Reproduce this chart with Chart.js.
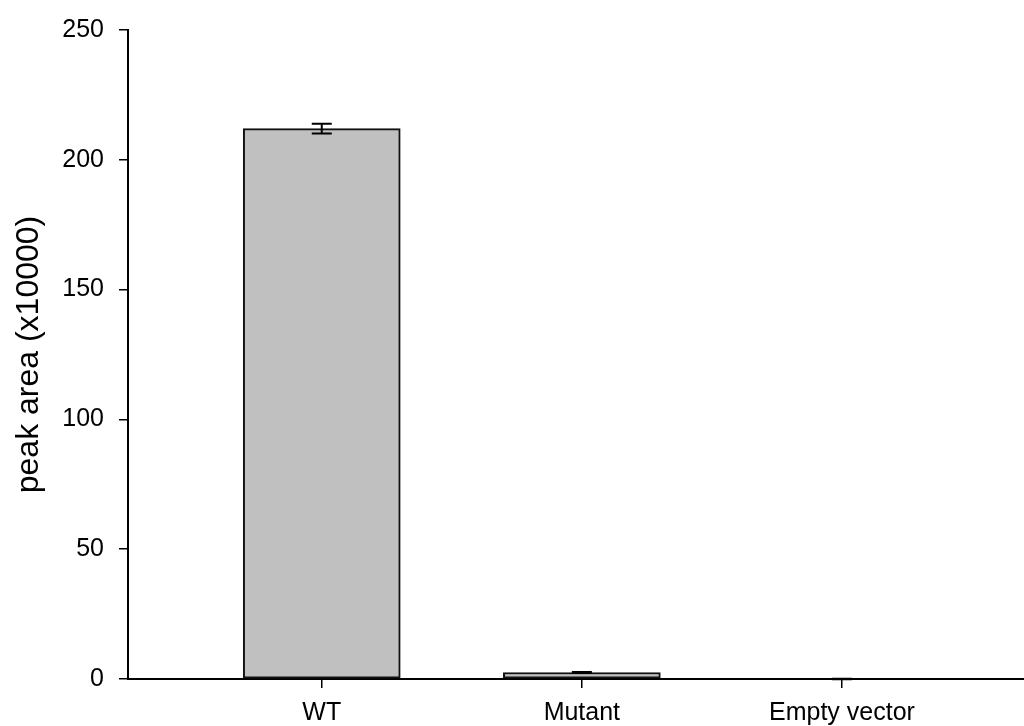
<!DOCTYPE html>
<html>
<head>
<meta charset="utf-8">
<script src="https://cdn.jsdelivr.net/npm/chart.js@4"></script>
<style>
  html, body { margin: 0; padding: 0; background: #fff; }
  #wrap { width: 1024px; height: 726px; }
</style>
</head>
<body>
<div id="wrap"><canvas id="peak-chart" width="1024" height="726"></canvas></div>
<script>
// dati
const categories = ['WT', 'Mutant', 'Empty vector'];
const peakArea = [212.0, 2.5, 0.0];
const peakErr = [1.9, 0.15, 0.1];
const yTicks = [0, 50, 100, 150, 200, 250];

// barre di errore disegnate con le scale del grafico
const errorBars = {
    id: 'errorBars',
    afterDatasetsDraw(chart) {
        const ctx = chart.ctx;
        const xs = chart.scales.x;
        const ys = chart.scales.y;
        ctx.save();
        ctx.strokeStyle = '#000';
        ctx.lineWidth = 2;
        peakArea.forEach((v, i) => {
            const x = xs.getPixelForValue(i);
            const top = ys.getPixelForValue(v + peakErr[i]);
            const bot = ys.getPixelForValue(v - peakErr[i]);
            ctx.beginPath();
            ctx.moveTo(x, top); ctx.lineTo(x, bot);
            ctx.moveTo(x - 10, top); ctx.lineTo(x + 10, top);
            ctx.moveTo(x - 10, bot); ctx.lineTo(x + 10, bot);
            ctx.stroke();
        });
        ctx.restore();
    }
};

const family = 'Arial, "Liberation Sans", sans-serif';
const tickFont = { family: family, size: 25 };

new Chart(document.getElementById('peak-chart').getContext('2d'), {
    type: 'bar',
    data: {
        datasets: [{
            data: categories.map((c, i) => ({ x: i, y: peakArea[i] })),
            backgroundColor: '#c0c0c0',
            borderColor: '#111',
            borderWidth: 2,
            borderSkipped: false,
            barThickness: 157
        }]
    },
    options: {
        responsive: false,
        animation: false,
        layout: { padding: { top: 26, left: 0, right: 0, bottom: 0 } },
        plugins: { legend: { display: false }, tooltip: { enabled: false } },
        scales: {
            x: {
                type: 'linear',
                offset: false,
                min: -0.745,
                max: 2.70,
                afterBuildTicks: (axis) => { axis.ticks = categories.map((c, i) => ({ value: i })); },
                afterFit: (axis) => { axis.height = 47; },
                ticks: {
                    callback: (v) => categories[v],
                    color: '#000',
                    font: tickFont,
                    padding: 10,
                    maxRotation: 0
                },
                grid: { offset: false, drawOnChartArea: false, tickLength: 9, color: '#000', lineWidth: 1.5 },
                border: { color: '#000', width: 2 }
            },
            y: {
                min: 0,
                max: 250,
                afterBuildTicks: (axis) => { axis.ticks = yTicks.map(v => ({ value: v })); },
                afterFit: (axis) => { axis.width = 128; },
                ticks: { color: '#000', font: tickFont, padding: 15 },
                grid: { drawOnChartArea: false, tickLength: 9, color: '#000', lineWidth: 1.5 },
                border: { color: '#000', width: 2 },
                title: {
                    display: true,
                    text: 'peak area (x10000)',
                    color: '#000',
                    font: { family: family, size: 32 },
                    padding: { top: 10, bottom: 0 }
                }
            }
        }
    },
    plugins: [errorBars]
});
</script>
</body>
</html>
